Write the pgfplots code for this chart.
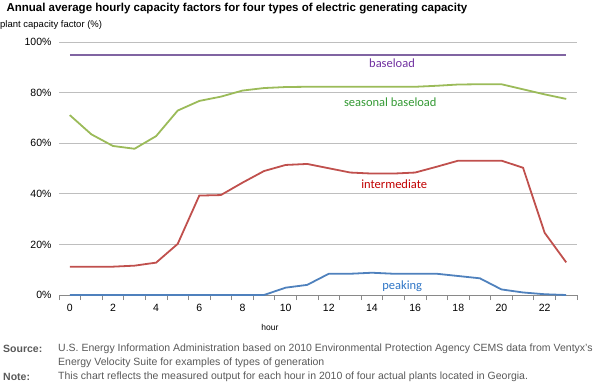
\documentclass[border=0pt]{standalone}
\usepackage{pgfplots}
\pgfplotsset{compat=1.18}
\usepackage{fontspec}
\setmainfont{Liberation Sans}
\newfontfamily\carlito{Carlito}
\definecolor{cbase}{HTML}{8064A2}
\definecolor{cseas}{HTML}{9BBB59}
\definecolor{cint}{HTML}{C0504D}
\definecolor{cpeak}{HTML}{4F81BD}
\definecolor{tbase}{HTML}{7030A0}
\definecolor{tseas}{HTML}{339933}
\definecolor{tint}{HTML}{C00000}
\definecolor{tpeak}{HTML}{2E75C6}
\definecolor{srcgray}{HTML}{595959}
\definecolor{gridgray}{HTML}{BEBEBE}
\definecolor{axgray}{HTML}{898989}
\pgfplotstableread{
h base seas inter peak
0 95 71.1 11.2 0
1 95 63.5 11.2 0
2 95 58.9 11.2 0
3 95 57.8 11.6 0
4 95 62.8 12.8 0
5 95 72.9 20.2 0
6 95 76.7 39.3 0
7 95 78.4 39.5 0
8 95 80.8 44.4 0
9 95 81.8 49.0 0
10 95 82.2 51.4 2.9
11 95 82.3 51.8 4.0
12 95 82.3 50.1 8.4
13 95 82.3 48.4 8.4
14 95 82.3 48.0 8.8
15 95 82.3 48.0 8.4
16 95 82.3 48.4 8.4
17 95 82.7 50.7 8.4
18 95 83.2 53.1 7.5
19 95 83.3 53.1 6.6
20 95 83.3 53.1 2.2
21 95 81.3 50.3 1.0
22 95 79.3 24.6 0.3
23 95 77.5 12.9 0
}\datatable
\begin{document}
\begin{tikzpicture}
\path[use as bounding box] (0pt,0pt) rectangle (601pt,383pt);
\begin{axis}[
  at={(59pt,88pt)}, anchor=south west,
  scale only axis, width=518pt, height=253pt,
  xmin=-0.5, xmax=23.5, ymin=0, ymax=100,
  axis x line*=bottom, axis y line*=left,
  x axis line style={axgray, line width=0.8pt, -},
  y axis line style={draw=none},
  xtick={0,2,...,22},
  minor xtick={-0.5,0.5,...,23.5},
  major tick length=0pt, minor tick length=5pt,
  tick align=outside,
  xtick style={axgray, line width=0.8pt},
  minor x tick style={axgray, line width=0.8pt},
  ytick={0,20,...,100},
  yticklabel={\pgfmathprintnumber{\tick}\%},
  ymajorgrids, major grid style={gridgray, line width=0.8pt},
  ticklabel style={font=\fontsize{10.5}{12}\selectfont},
  /pgf/number format/assume math mode=true,
  xticklabel style={yshift=-6pt},
  yticklabel style={xshift=-4pt},
  clip=false,
]
\addplot[cbase, line width=1.8pt] table[x=h,y=base] {\datatable};
\addplot[cseas, line width=1.8pt] table[x=h,y=seas] {\datatable};
\addplot[cint, line width=1.8pt] table[x=h,y=inter] {\datatable};
\addplot[cpeak, line width=1.8pt] table[x=h,y=peak] {\datatable};
\node[tbase, font=\carlito\fontsize{12.5}{14}\selectfont] at (axis cs:14.93,91.6) {baseload};
\node[tseas, font=\carlito\fontsize{12.5}{14}\selectfont] at (axis cs:14.85,76.3) {seasonal baseload};
\node[tint, font=\carlito\fontsize{12.5}{14}\selectfont] at (axis cs:15.03,43.9) {intermediate};
\node[tpeak, font=\carlito\fontsize{12.5}{14}\selectfont] at (axis cs:15.4,3.5) {peaking};
\end{axis}
\node[anchor=west, font=\bfseries\fontsize{11.5}{13}\selectfont] at (3pt,374pt) {Annual average hourly capacity factors for four types of electric generating capacity};
\node[anchor=west, font=\fontsize{9.5}{11}\selectfont, inner sep=0pt] at (0pt,358pt) {plant capacity factor (\%)};
\node[font=\fontsize{8.5}{10}\selectfont] at (270pt,56pt) {hour};
\node[anchor=west, text=srcgray, font=\bfseries\fontsize{10.5}{12}\selectfont, inner sep=0pt] at (3pt,34pt) {Source:};
\node[anchor=west, text=srcgray, font=\fontsize{10.5}{12}\selectfont, inner sep=0pt] at (58pt,34pt) {U.S. Energy Information Administration based on 2010 Environmental Protection Agency CEMS data from Ventyx's};
\node[anchor=west, text=srcgray, font=\fontsize{10.5}{12}\selectfont, inner sep=0pt] at (58pt,20pt) {Energy Velocity Suite for examples of types of generation};
\node[anchor=west, text=srcgray, font=\bfseries\fontsize{10.5}{12}\selectfont, inner sep=0pt] at (3pt,6pt) {Note:};
\node[anchor=west, text=srcgray, font=\fontsize{10.5}{12}\selectfont, inner sep=0pt] at (58pt,6pt) {This chart reflects the measured output for each hour in 2010 of four actual plants located in Georgia.};
\end{tikzpicture}
\end{document}
